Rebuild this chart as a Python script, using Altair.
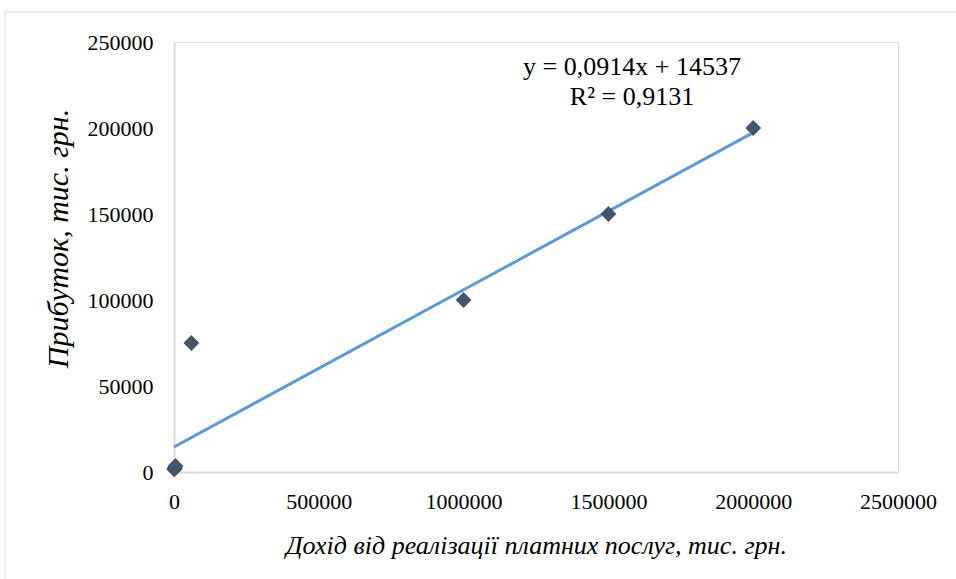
import altair as alt
import pandas as pd

# Data
income = [1000, 2000, 3000, 5000, 60000, 1000000, 1500000, 2000000]
profit = [1500, 2000, 2500, 3500, 75000, 100000, 150000, 200000]

# Trend line coefficients as printed on the chart
slope = 0.0914
intercept = 14537
trend_x = [0, 2000000]

eq_line1 = "y = 0,0914x + 14537"
eq_line2 = "R² = 0,9131"

x_ticks = [0, 500000, 1000000, 1500000, 2000000, 2500000]
y_ticks = [0, 50000, 100000, 150000, 200000, 250000]

pts = pd.DataFrame({"x": income, "y": profit})
trend = pd.DataFrame({"x": trend_x, "y": [slope * v + intercept for v in trend_x]})

FONT = "Liberation Serif"
AXIS_COLOR = "#d9d9d9"

xscale = alt.Scale(domain=[0, 2500000], nice=False, zero=True)
yscale = alt.Scale(domain=[0, 250000], nice=False, zero=True)

xaxis = alt.Axis(
    values=x_ticks, format="d", title="Дохід від реалізації платних послуг, тис. грн.",
    grid=False, ticks=False, domainColor=AXIS_COLOR, domainWidth=2,
    labelFont=FONT, labelFontSize=22, labelColor="#000000", labelPadding=19,
    titleFont=FONT, titleFontSize=26, titleFontStyle="italic", titleFontWeight="normal",
    titleColor="#000000", titlePadding=20, labelFlush=False,
)
yaxis = alt.Axis(
    values=y_ticks, format="d", title="Прибуток, тис. грн.",
    grid=False, ticks=False, domainColor=AXIS_COLOR, domainWidth=2,
    labelFont=FONT, labelFontSize=22, labelColor="#000000", labelPadding=21,
    titleFont=FONT, titleFontSize=30, titleFontStyle="italic", titleFontWeight="normal",
    titleColor="#000000", titlePadding=14, titleY=196, labelFlush=False,
)

border = alt.Chart(pd.DataFrame({"a": [0]})).mark_rect(
    fill=None, stroke="#d9d9d9", strokeWidth=1, clip=False
).encode(
    x=alt.value(-169), x2=alt.value(800), y=alt.value(-30), y2=alt.value(560)
)

line = alt.Chart(trend).mark_line(color="#5b9bd5", strokeWidth=3).encode(
    x=alt.X("x:Q", scale=xscale, axis=xaxis),
    y=alt.Y("y:Q", scale=yscale, axis=yaxis),
)

points = alt.Chart(pts).mark_point(
    shape="diamond", filled=True, color="#44546a", size=250, opacity=1
).encode(
    x=alt.X("x:Q", scale=xscale),
    y=alt.Y("y:Q", scale=yscale),
)

text_base = alt.Chart(pd.DataFrame({"a": [0]})).mark_text(
    font=FONT, fontSize=26, color="#000000", align="center", baseline="middle"
)
label1 = text_base.encode(text=alt.value(eq_line1), x=alt.value(458), y=alt.value(25))
label2 = text_base.encode(text=alt.value(eq_line2), x=alt.value(458), y=alt.value(55))

chart = alt.layer(border, line, points, label1, label2).properties(
    width=724, height=430,
    padding={"left": 174, "top": 42, "right": 58, "bottom": 107},
    autosize=alt.AutoSizeParams(type="none"),
).configure_view(strokeWidth=0).configure(background="white")

chart.save("out.html", embed_options={"renderer": "svg", "actions": False})
